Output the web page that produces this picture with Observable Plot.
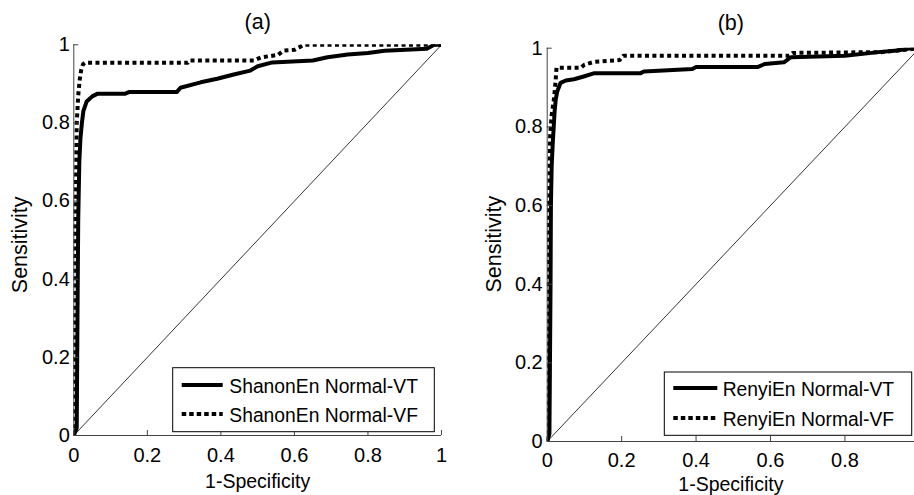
<!DOCTYPE html>
<html><head><meta charset="utf-8">
<script src="https://cdn.jsdelivr.net/npm/d3@7"></script>
<script src="https://cdn.jsdelivr.net/npm/@observablehq/plot@0.6"></script>
<style>
body{margin:0;background:#fff;}
#wrap{position:relative;width:914px;height:495px;overflow:hidden;background:#fff;font-family:"Liberation Sans",Arial,sans-serif;}
.panel{position:absolute;top:0;}
.panel svg{overflow:visible;}
.legend{position:absolute;top:0;left:0;}
</style></head><body><div id="wrap"></div>
<script>
// ---- data ----
const panelTitles = ["(a)", "(b)"];
const xLabel = "1-Specificity";
const yLabel = "Sensitivity";
const xTicksA = [0, 0.2, 0.4, 0.6, 0.8, 1];
const xTicksB = [0, 0.2, 0.4, 0.6, 0.8];
const yTicks = [0, 0.2, 0.4, 0.6, 0.8, 1];
const namesA = ["ShanonEn Normal-VT", "ShanonEn Normal-VF"];
const namesB = ["RenyiEn Normal-VT", "RenyiEn Normal-VF"];
const chance = [0, 1];

// [1-specificity, sensitivity]
const shanonVT = [[0,0],[0.008,0.02],[0.01,0.3],[0.012,0.55],[0.015,0.7],[0.018,0.76],[0.022,0.8],[0.026,0.83],[0.035,0.855],[0.05,0.868],[0.065,0.875],[0.14,0.875],[0.15,0.879],[0.28,0.879],[0.29,0.89],[0.345,0.904],[0.39,0.913],[0.435,0.924],[0.48,0.934],[0.5,0.945],[0.54,0.955],[0.65,0.96],[0.69,0.968],[0.745,0.975],[0.8,0.979],[0.845,0.985],[0.96,0.99],[0.98,1],[1,1]];
const shanonVF = [[0,0],[0.003,0.02],[0.004,0.55],[0.006,0.65],[0.008,0.8],[0.012,0.87],[0.016,0.91],[0.02,0.935],[0.025,0.95],[0.03,0.954],[0.31,0.954],[0.315,0.96],[0.49,0.96],[0.51,0.968],[0.555,0.974],[0.57,0.985],[0.6,0.987],[0.626,1],[1,1]];
const renyiVT = [[0,0],[0.006,0.02],[0.009,0.4],[0.01,0.6],[0.012,0.7],[0.015,0.76],[0.02,0.84],[0.023,0.87],[0.027,0.89],[0.036,0.912],[0.05,0.918],[0.072,0.921],[0.098,0.928],[0.125,0.936],[0.25,0.936],[0.26,0.941],[0.39,0.947],[0.4,0.952],[0.565,0.952],[0.585,0.96],[0.636,0.964],[0.655,0.977],[0.8,0.981],[0.89,0.99],[0.94,0.994],[0.977,1],[1,1]];
const renyiVF = [[0,0],[0.004,0.02],[0.005,0.6],[0.008,0.78],[0.012,0.83],[0.018,0.87],[0.022,0.91],[0.025,0.95],[0.09,0.95],[0.1,0.958],[0.125,0.965],[0.195,0.97],[0.205,0.981],[0.65,0.981],[0.66,0.988],[0.9,0.99],[0.95,0.995],[1,1]];

const FONT = '"Liberation Sans", Arial, sans-serif';
const DASH = "4,3.4";

function panel(o) {
  return Plot.plot({
    width: o.width, height: 495,
    marginLeft: o.ml, marginRight: o.mr, marginTop: o.mt, marginBottom: o.mb,
    x: {domain: [0, o.xMax]},
    y: {domain: [0, 1]},
    style: {fontFamily: FONT, fontSize: "20px", color: "black", background: "white", overflow: "visible"},
    marks: [
      Plot.line(chance, {x: d => d, y: d => d, stroke: "black", strokeWidth: 0.8, clip: true}),
      Plot.line(o.vt, {x: d => d[0], y: d => d[1], stroke: "black", strokeWidth: 4, clip: true}),
      Plot.line(o.vf, {x: d => d[0], y: d => d[1], stroke: "black", strokeWidth: 4, strokeDasharray: DASH, strokeLinecap: "butt", clip: true}),
      Plot.ruleX([0], {stroke: "#444", strokeWidth: 1}),
      Plot.ruleY([0], {stroke: "#444", strokeWidth: 1}),
      Plot.axisX({ticks: o.xTicks, tickSize: -5, tickPadding: o.xPad, tickFormat: d => String(d), label: null, stroke: "#444", fontSize: 20}),
      Plot.axisY({ticks: yTicks, tickSize: -5, tickPadding: o.yPad, tickFormat: d => String(d), label: null, stroke: "#444", fontSize: 20}),
      Plot.text([o.title], {frameAnchor: "top", dy: o.titleDy, lineAnchor: "middle", fontSize: 21.5}),
      Plot.text([xLabel], {frameAnchor: "bottom", dy: o.xLabDy, lineAnchor: "top", fontSize: 19.5}),
      Plot.text([yLabel], {frameAnchor: "top-left", dx: o.yLabDx, dy: o.yLabDy, rotate: -90, textAnchor: "middle", lineAnchor: "middle", fontSize: 21.5})
    ]
  });
}

function legend(o) {
  const svg = d3.create("svg").attr("class", "legend").attr("width", 914).attr("height", 495)
    .style("position", "absolute").style("left", "0px").style("top", "0px").style("pointer-events", "none");
  svg.append("rect").attr("x", o.x).attr("y", o.y).attr("width", o.w).attr("height", o.h)
    .attr("fill", "white").attr("stroke", "black").attr("stroke-width", 1);
  o.names.forEach((name, i) => {
    const cy = o.rows[i];
    svg.append("line").attr("x1", o.x + o.s0).attr("x2", o.x + o.s1).attr("y1", cy).attr("y2", cy)
      .attr("stroke", "black").attr("stroke-width", 4).attr("stroke-dasharray", i === 1 ? "4.5,3" : null);
    svg.append("text").attr("x", o.x + o.tx).attr("y", cy + 7.5).attr("font-family", FONT).attr("font-size", 19.3)
      .attr("fill", "black").text(name);
  });
  return svg.node();
}

const wrap = document.getElementById("wrap");
const pa = document.createElement("div"); pa.className = "panel"; pa.style.left = "0px";
pa.appendChild(panel({title: panelTitles[0], vt: shanonVT, vf: shanonVF, width: 457, ml: 73.3, mr: 16, mt: 44.3, mb: 60, xMax: 1, xTicks: xTicksA, xPad: 17, yPad: 9, titleDy: -22.2, xLabDy: 39, yLabDx: -54, yLabDy: 200}));
const pb = document.createElement("div"); pb.className = "panel"; pb.style.left = "457px";
pb.appendChild(panel({title: panelTitles[1], vt: renyiVT, vf: renyiVF, width: 457, ml: 89.7, mr: 0, mt: 47.7, mb: 54, xMax: 0.987, xTicks: xTicksB, xPad: 16, yPad: 9.5, titleDy: -24.7, xLabDy: 35.7, yLabDx: -52.7, yLabDy: 196}));
wrap.appendChild(pa); wrap.appendChild(pb);
wrap.appendChild(legend({names: namesA, x: 172.7, y: 367.7, w: 261.6, h: 64, rows: [385, 414], s0: 9, s1: 50, tx: 56.6}));
wrap.appendChild(legend({names: namesB, x: 664.3, y: 372, w: 247.4, h: 63.3, rows: [388, 418], s0: 9, s1: 53, tx: 58.4}));
</script>
</body></html>
